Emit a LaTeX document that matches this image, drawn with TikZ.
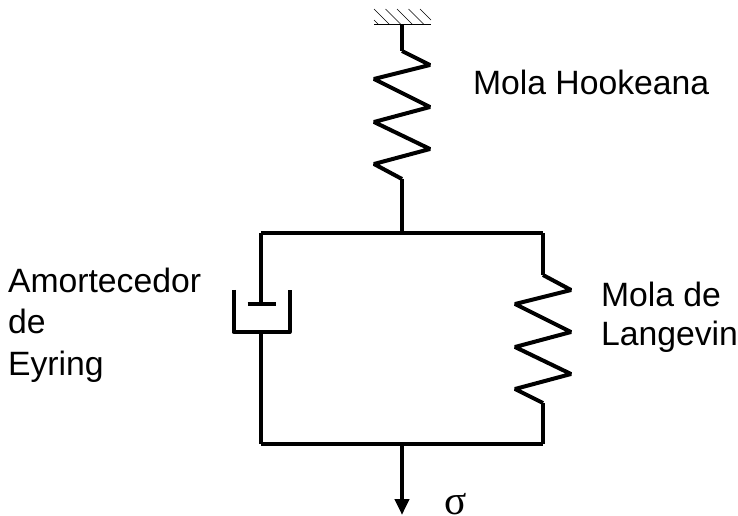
\documentclass[tikz,border=0pt]{standalone}
\usepackage{fontspec}
\setmainfont{Liberation Sans}
\newfontfamily\serifgreek{Liberation Serif}
\usetikzlibrary{arrows.meta,positioning}
\tikzstyle{label}=[
  anchor=base west,
  font={\fontsize{25.3}{28}\selectfont},
  inner sep=0pt,
  outer sep=0pt,
]
\tikzstyle{wire}=[
  color=black,
  line width=3pt,
]
\tikzstyle{spring}=[
  wire,
  line join=bevel,
]
\tikzstyle{hatch}=[
  color=black,
  line width=.5pt,
]
\tikzset{
  x=.75pt,
  y=-.75pt,
  >={Triangle[width=10.5pt,length=12pt]},
}
\begin{document}
\begin{tikzpicture}
      \useasboundingbox (0,0) rectangle (738,516);
      \coordinate (wallleft) at (374,24.5);
      \coordinate (wallright) at (431,24.5);
      \coordinate (wall) at (402,24.5);
      \coordinate (topin) at (402,51);
      \coordinate (topout) at (402,179);
      \coordinate (topjoin) at (402,233.5);
      \coordinate (barleft) at (261,233.5);
      \coordinate (barright) at (543,233.5);
      \coordinate (rightin) at (543,275);
      \coordinate (rightout) at (543,403);
      \coordinate (baseleft) at (261,443.5);
      \coordinate (baseright) at (543,443.5);
      \coordinate (basejoin) at (402,443.5);
      \coordinate (load) at (402,515);
      \coordinate (piston) at (261,304);
      \coordinate (pistonleft) at (247.5,304);
      \coordinate (pistonright) at (275.5,304);
      \coordinate (cup) at (261,332);
      \node (hooke) [label] at (473,95) {Mola Hookeana};
      \node (amort) [label] at (8,292) {Amortecedor};
      \node (amortde) [label] at (8,333) {de};
      \node (eyring) [label] at (8,375) {Eyring};
      \node (molade) [label] at (601,306) {Mola de};
      \node (langevin) [label] at (601,345) {Langevin};
      \node (sigma) [label, font={\serifgreek\fontsize{31}{34}\selectfont}] at (444,514) {σ};
      % wall
      \draw [hatch, line width=1pt] (wallleft) -- (wallright);
      \foreach \i in {374,385.5,397,408.5} {
        \draw [hatch] (\i,9) -- ++(15.5,15.5);
      }
      \draw [hatch] (420,9) -- (431,20);
      \draw [hatch] (374,20) -- (378.5,24.5);
      % top spring
      \draw [wire] (wall) -- (topin);
      \draw [spring] (topin) -- ++(28,14) -- ++(-56,14) -- ++(56,28) -- ++(-56,15)
        -- ++(56,27) -- ++(-56,15) -- (topout);
      \draw [wire] (topout) -- (topjoin);
      % frame
      \draw [wire] (barleft) -- (barright);
      \draw [wire] (baseleft) -- (baseright);
      \draw [wire] (barleft) -- (piston);
      \draw [wire] (pistonleft) -- (pistonright);
      \draw [wire, line join=round] (233.5,290) -- (233.5,332) -- (cup) -- (289.5,332) -- (289.5,290);
      \draw [wire] (cup) -- (baseleft);
      % right spring
      \draw [wire] (barright) -- (rightin);
      \draw [spring] (rightin) -- ++(28,15) -- ++(-56,14) -- ++(56,28) -- ++(-56,15)
        -- ++(56,27) -- ++(-56,15) -- (rightout);
      \draw [wire] (rightout) -- (baseright);
      % load
      \draw [->, wire] (basejoin) -- (load);
    \end{tikzpicture}
\end{document}
